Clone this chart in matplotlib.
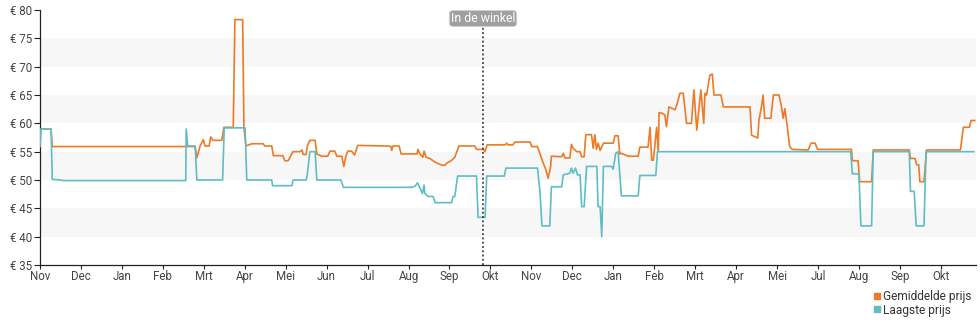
import matplotlib.pyplot as plt
from matplotlib.lines import Line2D

plt.rcParams['font.family'] = ['Roboto', 'DejaVu Sans']

# time axis in months, 0 = start of November
month_labels = ["Nov", "Dec", "Jan", "Feb", "Mrt", "Apr", "Mei", "Jun", "Jul", "Aug", "Sep", "Okt",
                "Nov", "Dec", "Jan", "Feb", "Mrt", "Apr", "Mei", "Jul", "Aug", "Sep", "Okt"]

avg_t = [0.00, 0.02, 0.27, 0.30, 3.56, 3.79, 3.83, 3.91, 3.99, 4.03, 4.13, 4.17, 4.22, 4.44,
         4.49, 4.72, 4.76, 4.95, 4.98, 5.03, 5.17, 5.45, 5.49, 5.66, 5.70, 5.93, 5.98, 6.06,
         6.18, 6.35, 6.40, 6.43, 6.50, 6.53, 6.59, 6.72, 6.76, 6.88, 7.03, 7.08, 7.20, 7.25,
         7.37, 7.42, 7.47, 7.52, 7.61, 7.68, 7.76, 8.51, 8.57, 8.59, 8.62, 8.77, 8.82, 9.21,
         9.23, 9.28, 9.35, 9.38, 9.43, 9.52, 9.60, 9.69, 9.82, 9.89, 9.94, 10.04, 10.13, 10.23,
         10.62, 10.66, 10.83, 10.87, 10.92, 11.36, 11.40, 11.43, 11.55, 11.60, 11.97, 12.01,
         12.15, 12.29, 12.35, 12.41, 12.47, 12.49, 12.74, 12.78, 12.82, 12.94, 12.98, 13.02,
         13.11, 13.19, 13.23, 13.29, 13.33, 13.47, 13.51, 13.55, 13.59, 13.63, 13.68, 13.76,
         14.00, 14.04, 14.12, 14.16, 14.20, 14.37, 14.61, 14.65, 14.85, 14.90, 14.94, 14.98,
         15.06, 15.10, 15.12, 15.18, 15.26, 15.30, 15.36, 15.51, 15.55, 15.63, 15.71, 15.79,
         15.91, 15.97, 16.04, 16.14, 16.21, 16.24, 16.28, 16.36, 16.42, 16.46, 16.63, 16.69,
         17.34, 17.38, 17.53, 17.56, 17.62, 17.66, 17.70, 17.85, 17.91, 18.05, 18.11, 18.15,
         18.19, 18.23, 18.31, 18.37, 18.76, 18.83, 18.93, 18.99, 19.82, 19.84, 19.98, 20.02,
         20.31, 20.35, 21.23, 21.26, 21.37, 21.41, 21.46, 21.49, 21.59, 21.65, 22.48, 22.55,
         22.70, 22.74, 22.83]
avg_price = [56.0, 59.0, 59.0, 55.9, 55.9, 55.9, 53.9, 56.0, 57.1, 56.0, 56.0, 57.6, 57.0, 57.0,
             59.3, 59.3, 78.3, 78.3, 59.3, 56.0, 56.4, 56.4, 56.0, 56.0, 54.3, 54.3, 53.4, 53.4,
             55.0, 55.0, 55.3, 54.5, 54.5, 56.0, 57.0, 57.0, 54.6, 54.2, 54.2, 55.1, 55.1, 54.2,
             54.2, 52.4, 54.2, 55.1, 55.1, 54.4, 56.1, 56.0, 55.9, 55.2, 56.0, 56.0, 54.6, 54.6,
             55.4, 54.6, 54.0, 55.1, 54.0, 53.8, 53.4, 53.0, 52.6, 52.6, 53.0, 53.4, 54.0, 56.0,
             56.0, 55.4, 55.4, 55.0, 56.2, 56.2, 56.5, 56.2, 56.2, 56.7, 56.7, 55.9,
             55.9, 53.0, 51.9, 50.3, 52.3, 54.2, 54.1, 54.7, 53.9, 53.9, 56.3, 55.6,
             55.0, 55.0, 54.1, 54.1, 58.0, 58.0, 55.6, 58.0, 55.4, 56.5, 55.2, 56.5,
             56.5, 57.8, 57.8, 54.6, 54.7, 54.2, 54.2, 55.8, 55.8, 59.3, 53.5, 53.5,
             59.3, 55.0, 61.9, 61.8, 61.5, 59.4, 62.9, 62.4, 63.2, 65.3, 65.3, 60.0,
             60.0, 65.9, 58.8, 65.9, 60.0, 65.3, 65.0, 68.5, 68.7, 65.0, 65.0, 62.9,
             62.9, 57.9, 57.4, 60.6, 62.9, 65.0, 60.9, 60.9, 65.0, 65.0, 62.9, 60.9,
             62.6, 60.6, 55.9, 55.4, 55.3, 56.5, 56.5, 55.4, 55.4, 53.4, 53.4, 49.7,
             49.7, 55.3, 55.3, 53.8, 53.8, 52.7, 52.7, 49.7, 49.7, 55.3, 55.3, 59.3,
             59.3, 60.5, 60.5]

low_t = [0.00, 0.02, 0.27, 0.30, 0.51, 0.54, 3.56, 3.57, 3.61, 3.79, 3.83, 4.46, 4.50, 5.01,
         5.05, 5.66, 5.68, 6.15, 6.18, 6.50, 6.53, 6.59, 6.72, 6.76, 7.35, 7.41, 9.08, 9.16,
         9.22, 9.28, 9.34, 9.38, 9.40, 9.48, 9.60, 9.65, 10.05, 10.09, 10.13, 10.20, 10.66,
         10.70, 10.87, 10.91, 11.34, 11.38, 12.15, 12.21, 12.26, 12.45, 12.49, 12.74, 12.78,
         12.94, 12.98, 13.02, 13.08, 13.13, 13.19, 13.23, 13.29, 13.35, 13.60, 13.63, 13.68,
         13.72, 13.76, 13.96, 14.00, 14.06, 14.12, 14.20, 14.61, 14.65, 15.04, 15.08, 19.80,
         19.84, 20.00, 20.05, 20.31, 20.35, 21.23, 21.26, 21.35, 21.40, 21.59, 21.64, 22.81]
low_price = [55.9, 59.0, 59.0, 50.1, 50.0, 49.9, 49.9, 59.0, 56.0, 56.0, 50.0, 50.0, 59.2, 59.2,
             50.0, 50.0, 49.0, 49.0, 50.0, 50.0, 51.0, 55.0, 55.0, 50.0, 50.0, 48.7, 48.7, 48.9,
             49.5, 48.6, 47.6, 49.1, 47.6, 47.1, 47.1, 46.0, 46.0, 47.1, 47.1, 50.7, 50.7,
             43.4, 43.4, 50.7, 50.7, 52.1, 52.1, 48.0, 41.9, 41.9, 48.8, 48.8, 50.9,
             51.2, 52.1, 51.2, 52.1, 50.9, 50.9, 45.3, 45.3, 52.4, 52.4, 45.3, 45.3,
             40.0, 52.4, 52.4, 51.9, 54.7, 55.0, 47.2, 47.2, 50.8, 50.8, 55.0, 55.0,
             51.1, 51.1, 41.9, 41.9, 55.0, 55.0, 48.0, 48.0, 41.9, 41.9, 55.0, 55.0]

store_date = 10.82
avg_color = "#ec7a26"
low_color = "#5ebdc5"

fig = plt.figure(figsize=(9.8, 3.25), dpi=100)
ax = fig.add_axes([40 / 980, 1 - 265 / 325, 936 / 980, 255 / 325])

# alternating horizontal bands
for lo in (40, 50, 60, 70):
    ax.axhspan(lo, lo + 5, color="#f7f7f7", zorder=0, lw=0)

ax.plot(low_t, low_price, color=low_color, lw=1.2, zorder=3)
ax.plot(avg_t, avg_price, color=avg_color, lw=1.2, zorder=2)

ax.axvline(store_date, ymax=0.995, color="#222222", lw=1.1, ls=(0, (1.2, 1.6)), zorder=4)
ax.text(store_date, 78.5, "In de winkel", ha="center", va="center", fontsize=8.8, color="white",
        bbox=dict(boxstyle="round,pad=0.12,rounding_size=0.3", fc="#a0a0a0", ec="#d0d0d0", lw=0.6),
        zorder=5)

ax.set_xlim(0, 22.86)
ax.set_ylim(35, 80)
ax.set_xticks(range(len(month_labels)))
ax.set_xticklabels(month_labels)
ax.set_yticks(range(35, 81, 5))
ax.set_yticklabels([f"€ {v}" for v in range(35, 81, 5)])
ax.tick_params(axis="both", colors="#222222", labelcolor="#444444", labelsize=8.3, width=0.8)
ax.tick_params(axis="y", length=4, pad=1.5)
ax.tick_params(axis="x", length=3, pad=0.5)
for side in ("top", "right"):
    ax.spines[side].set_visible(False)
for side in ("left", "bottom"):
    ax.spines[side].set_color("#222222")
    ax.spines[side].set_linewidth(0.9)

handles = [Line2D([], [], ls="", marker="s", ms=5, color=avg_color),
           Line2D([], [], ls="", marker="s", ms=5, color=low_color)]
fig.legend(handles, ["Gemiddelde prijs", "Laagste prijs"], loc="lower right",
           bbox_to_anchor=(1.0, 0.0), frameon=False, fontsize=8.6, handlelength=0.6,
           handletextpad=0.2, labelspacing=0.05, borderaxespad=0.3, labelcolor="#333333")

fig.savefig("out.png", dpi=100)
